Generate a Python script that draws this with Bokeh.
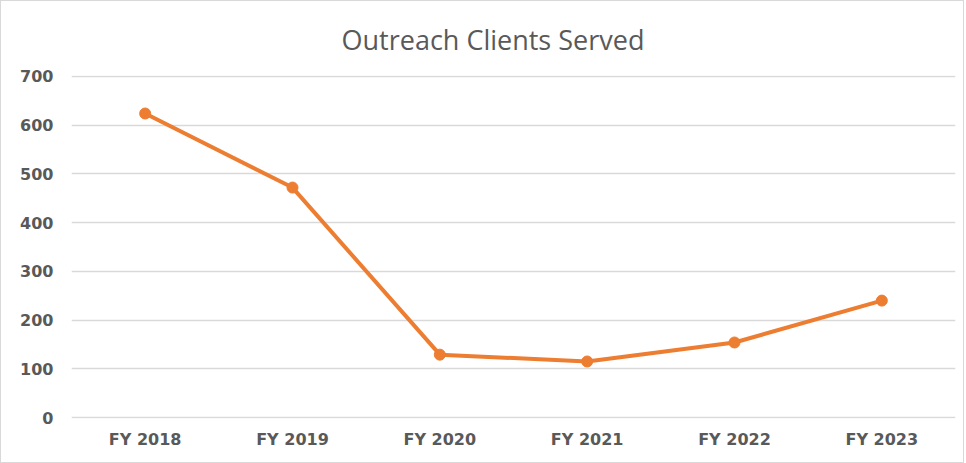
from bokeh.plotting import figure
from bokeh.models import FactorRange, Range1d, ColumnDataSource
from bokeh.embed import file_html
from bokeh.resources import INLINE

years = ["FY 2018", "FY 2019", "FY 2020", "FY 2021", "FY 2022", "FY 2023"]
clients = [624, 472, 129, 115, 154, 240]
y_ticks = [0, 100, 200, 300, 400, 500, 600, 700]

src = ColumnDataSource(dict(x=years, y=clients))

p = figure(
    x_range=FactorRange(*years, range_padding=0),
    y_range=Range1d(-2, 702),
    width=962, height=461,
    frame_width=884, frame_height=343,
    min_border_left=70, min_border_right=8, min_border_top=74, min_border_bottom=44,
    output_backend="svg", toolbar_location=None,
    title="Outreach Clients Served",
)
p.styles = {"border": "1px solid #d9d9d9"}
p.outline_line_color = None
p.background_fill_color = "white"
p.border_fill_color = "white"

p.title.align = "left"
p.title.offset = 270
p.title.text_font = "Open Sans"
p.title.text_font_style = "normal"
p.title.text_font_size = "27px"
p.title.text_color = "#595959"
p.title.standoff = 35

p.line("x", "y", source=src, line_color="#ED7D31", line_width=4)
p.scatter("x", "y", source=src, size=11, fill_color="#ED7D31", line_color="#ED7D31")

p.yaxis.ticker = y_ticks
p.xgrid.grid_line_color = None
p.ygrid.grid_line_color = "#d9d9d9"
p.ygrid.grid_line_width = 1.5

for ax in (p.xaxis[0], p.yaxis[0]):
    ax.axis_line_color = None
    ax.major_tick_line_color = None
    ax.minor_tick_line_color = None
    ax.major_label_text_font = "DejaVu Sans"
    ax.major_label_text_font_style = "bold"
    ax.major_label_text_font_size = "16px"
    ax.major_label_text_color = "#595959"

p.xaxis.major_label_standoff = 5
p.yaxis.major_label_standoff = 12

open("out.html", "w").write(file_html(p, INLINE))
